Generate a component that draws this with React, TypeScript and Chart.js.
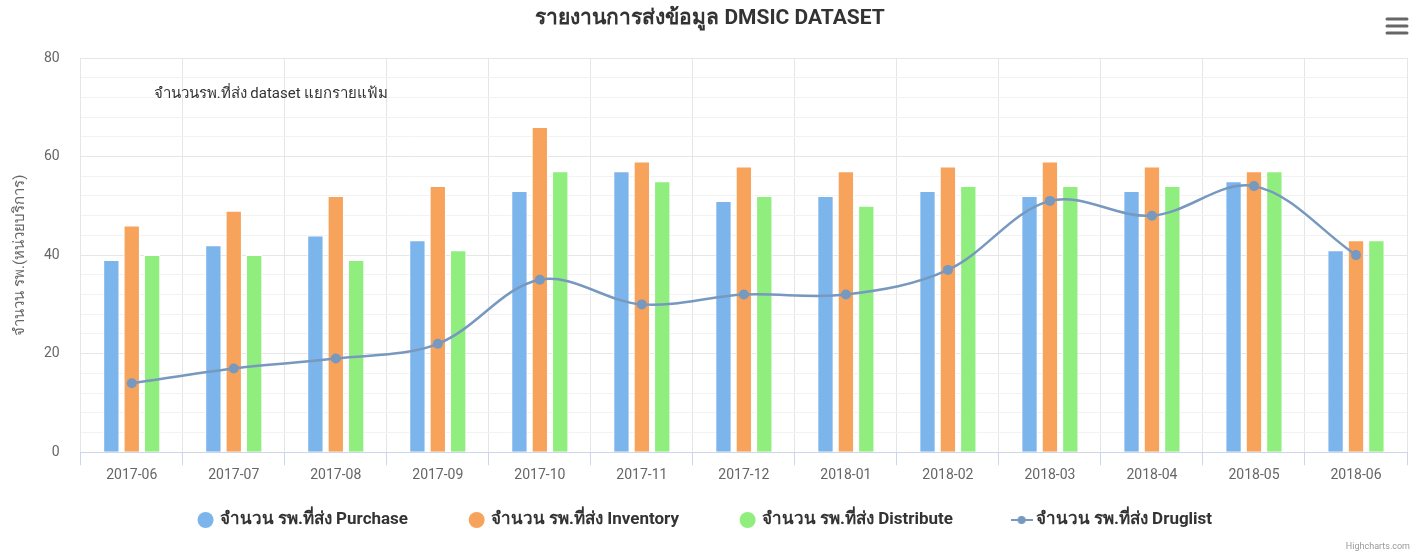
import React, { useEffect, useRef } from 'react';
import { Chart, registerables } from 'chart.js';

Chart.register(...registerables);

// ---------- data ----------
const categories = [
  '2017-06', '2017-07', '2017-08', '2017-09', '2017-10', '2017-11', '2017-12',
  '2018-01', '2018-02', '2018-03', '2018-04', '2018-05', '2018-06',
];
const purchase = [39, 42, 44, 43, 53, 57, 51, 52, 53, 52, 53, 55, 41];
const inventory = [46, 49, 52, 54, 66, 59, 58, 57, 58, 59, 58, 57, 43];
const distribute = [40, 40, 39, 41, 57, 55, 52, 50, 54, 54, 54, 57, 43];
const druglist = [14, 17, 19, 22, 35, 30, 32, 32, 37, 51, 48, 54, 40];

const seriesLabels = [
  'จำนวน รพ.ที่ส่ง Purchase',
  'จำนวน รพ.ที่ส่ง Inventory',
  'จำนวน รพ.ที่ส่ง Distribute',
  'จำนวน รพ.ที่ส่ง Druglist',
];
const titleText = 'รายงานการส่งข้อมูล DMSIC DATASET';
const subtitleText = 'จำนวนรพ.ที่ส่ง dataset แยกรายแฟ้ม';
const yAxisTitle = 'จำนวน รพ.(หน่วยบริการ)';
const creditsText = 'Highcharts.com';
const yMin = 0;
const yMax = 80;
const yMinorStep = 4;
const yMajorStep = 20;

// ---------- styles ----------
const COLORS = ['#7cb5ec', '#f7a35c', '#90ee7e', '#7798BF'];
const FONT = "'Roboto', 'Noto Sans', sans-serif";
const LEGEND_FONT_SIZE = 17;
const LEGEND_PADDING = 63;
const LEGEND_CENTER_Y = 520;

export default function App() {
  const ref = useRef<HTMLCanvasElement>(null);

  useEffect(() => {
    document.body.style.margin = '0';
    const canvas = ref.current;
    if (!canvas) return;

    // legend symbol for the line series: line with a circle marker
    const legendLine = document.createElement('canvas');
    legendLine.width = 22;
    legendLine.height = 12;
    const lc = legendLine.getContext('2d')!;
    lc.strokeStyle = COLORS[3];
    lc.lineWidth = 2;
    lc.beginPath();
    lc.moveTo(0, 6);
    lc.lineTo(22, 6);
    lc.stroke();
    lc.fillStyle = COLORS[3];
    lc.beginPath();
    lc.arc(11, 6, 4, 0, Math.PI * 2);
    lc.fill();

    const decor = {
      id: 'decor',
      afterLayout(chart: any) {
        const lg = chart.legend;
        if (lg) {
          const shift = LEGEND_CENTER_Y - (lg.top + LEGEND_PADDING + LEGEND_FONT_SIZE / 2);
          lg.top += shift;
          lg.bottom += shift;
        }
      },
      afterDraw(chart: any) {
        const ctx = chart.ctx as CanvasRenderingContext2D;
        const w = chart.width;
        ctx.save();
        // title
        ctx.fillStyle = '#333333';
        ctx.font = `bold 21px ${FONT}`;
        ctx.textAlign = 'center';
        ctx.textBaseline = 'middle';
        ctx.fillText(titleText, 710, 19);
        // subtitle
        ctx.font = `15px ${FONT}`;
        ctx.fillStyle = '#333333';
        ctx.fillText(subtitleText, 271, 94);
        // credits
        ctx.font = `9px ${FONT}`;
        ctx.fillStyle = '#999999';
        ctx.textAlign = 'right';
        ctx.fillText(creditsText, w - 2, 547);
        // menu icon
        ctx.strokeStyle = '#666666';
        ctx.lineWidth = 3;
        ctx.lineCap = 'round';
        for (const yy of [19, 26, 33]) {
          ctx.beginPath();
          ctx.moveTo(1387, yy);
          ctx.lineTo(1407, yy);
          ctx.stroke();
        }
        ctx.restore();
      },
    };

    const barDs = (label: string, data: number[], color: string) => ({
      type: 'bar' as const,
      label,
      data,
      backgroundColor: color,
      borderColor: '#ffffff',
      borderWidth: 1,
      categoryPercentage: 0.6,
      barPercentage: 0.8,
      pointStyle: 'circle',
      order: 1,
    });

    const chart = new Chart(canvas, {
      type: 'bar',
      data: {
        labels: categories,
        datasets: [
          barDs(seriesLabels[0], purchase, COLORS[0]),
          barDs(seriesLabels[1], inventory, COLORS[1]),
          barDs(seriesLabels[2], distribute, COLORS[2]),
          {
            type: 'line' as const,
            label: seriesLabels[3],
            data: druglist,
            borderColor: COLORS[3],
            backgroundColor: COLORS[3],
            borderWidth: 2.5,
            tension: 0.35,
            pointRadius: 5,
            pointBorderWidth: 0,
            pointBackgroundColor: COLORS[3],
            fill: false,
            order: 0,
          } as any,
        ],
      },
      options: {
        responsive: true,
        maintainAspectRatio: false,
        animation: false,
        layout: { padding: { top: 58, right: 0, bottom: -19, left: 0 } },
        font: { family: FONT } as any,
        plugins: {
          title: { display: false },
          tooltip: { enabled: false },
          legend: {
            position: 'bottom',
            labels: {
              usePointStyle: true,
              boxWidth: 11.3,
              boxHeight: 11.3,
              padding: LEGEND_PADDING,
              color: '#333333',
              font: { family: FONT, size: LEGEND_FONT_SIZE, weight: 'bold' },
              sort: (a: any, b: any) => a.datasetIndex - b.datasetIndex,
              generateLabels: (c: any) => {
                const items = (Chart.defaults.plugins.legend.labels as any).generateLabels(c);
                items.forEach((it: any) => {
                  if (it.datasetIndex === 3) {
                    it.pointStyle = legendLine;
                  } else {
                    it.pointStyle = 'circle';
                    it.lineWidth = 0;
                  }
                });
                return items;
              },
            },
          } as any,
        },
        scales: {
          x: {
            grid: {
              color: '#e6e6e6',
              tickColor: '#ccd6eb',
              tickLength: 13,
              offset: true,
            },
            border: { color: '#ccd6eb', width: 1 },
            ticks: {
              color: '#666666',
              padding: 2,
              maxRotation: 0,
              autoSkip: false,
              font: { family: FONT, size: 14 },
            },
          },
          y: {
            min: yMin,
            max: yMax,
            ticks: {
              stepSize: yMinorStep,
              autoSkip: false,
              color: '#666666',
              padding: 21,
              font: { family: FONT, size: 14 },
              callback: (v: any) => (Number(v) % yMajorStep === 0 ? String(v) : ''),
            },
            grid: {
              color: (c: any) => (c.tick && c.tick.value % yMajorStep === 0 ? '#e6e6e6' : '#f2f2f2'),
              drawTicks: false,
            },
            border: { display: false },
            title: {
              display: true,
              text: yAxisTitle,
              color: '#666666',
              font: { family: FONT, size: 15 },
              padding: { top: 11, bottom: -6 },
            },
          },
        },
      },
      plugins: [decor],
    });

    return () => chart.destroy();
  }, []);

  return (
    <div style={{ position: 'relative', width: 1412, height: 557 }}>
      <canvas ref={ref} />
    </div>
  );
}
